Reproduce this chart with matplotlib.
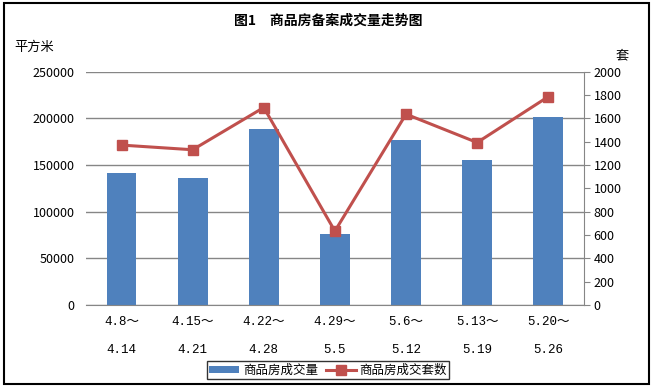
import numpy as np
import matplotlib
matplotlib.use('Agg')
import matplotlib.pyplot as plt
from matplotlib.patches import Rectangle

plt.rcParams['font.family'] = ['Noto Sans CJK SC', 'DejaVu Sans']

weeks_start = ['4.8～', '4.15～', '4.22～', '4.29～', '5.6～', '5.13～', '5.20～']
weeks_end = ['4.14', '4.21', '4.28', '5.5', '5.12', '5.19', '5.26']
area = [141800, 136200, 188800, 76200, 177000, 155600, 201700]  # 平方米
units = [1370, 1330, 1692, 633, 1635, 1392, 1785]  # 套

bar_color = '#4F81BD'
line_color = '#C0504D'
grid_color = '#868686'

fig = plt.figure(figsize=(6.56, 3.90), dpi=100)
ax = fig.add_axes([0.131, 0.218, 0.759, 0.5985])
ax2 = ax.twinx()

x = np.arange(len(area))
ax.bar(x, area, width=0.42, color=bar_color, zorder=2, label='商品房成交量')
ax.set_ylim(0, 250000)
ax.set_xlim(-0.5, len(area) - 0.5)
ax.set_yticks(np.arange(0, 250001, 50000))
ax.yaxis.grid(True, color=grid_color, linewidth=1)
ax.set_axisbelow(True)

ax2.plot(x, units, color=line_color, linewidth=2.2, marker='s', markersize=7,
         markerfacecolor=line_color, markeredgecolor=line_color, zorder=3,
         label='商品房成交套数')
ax2.set_ylim(0, 2000)
ax2.set_yticks(np.arange(0, 2001, 200))

for s in ['top', 'left']:
    ax.spines[s].set_visible(False)
    ax2.spines[s].set_visible(False)
ax.spines['right'].set_visible(False)
ax.spines['bottom'].set_color(grid_color)
ax2.spines['bottom'].set_visible(False)
ax2.spines['right'].set_color(grid_color)

ax.tick_params(axis='y', length=0, pad=8, labelsize=9)
ax2.tick_params(axis='y', length=4, color=grid_color, pad=3, labelsize=9)

ax.set_xticks(x)
ax.set_xticklabels([a + '\n' + b for a, b in zip(weeks_start, weeks_end)],
                   family=['Liberation Mono', 'Noto Sans CJK SC'], fontsize=9,
                   linespacing=2.8)
ax.tick_params(axis='x', length=0, pad=8)

fig.text(0.5, 0.948, '图1　商品房备案成交量走势图', ha='center', va='center',
         fontsize=10, fontweight='bold')
fig.text(0.022, 0.878, '平方米', ha='left', va='center', fontsize=9.5)
fig.text(0.938, 0.858, '套', ha='left', va='center', fontsize=9.5)

h1, l1 = ax.get_legend_handles_labels()
h2, l2 = ax2.get_legend_handles_labels()
leg = fig.legend(h1 + h2, l1 + l2, loc='center', bbox_to_anchor=(0.5, 0.051),
                 ncol=2, fontsize=9, frameon=True, fancybox=False,
                 edgecolor='black', handlelength=2.4, handleheight=0.5,
                 columnspacing=0.6, handletextpad=0.3, borderpad=0.2)
leg.get_frame().set_linewidth(1)

fig.patches.append(Rectangle((0.006, 0.015), 0.984, 0.978, transform=fig.transFigure,
                             fill=False, edgecolor='black', linewidth=1.5))

fig.savefig('out.png', dpi=100)
